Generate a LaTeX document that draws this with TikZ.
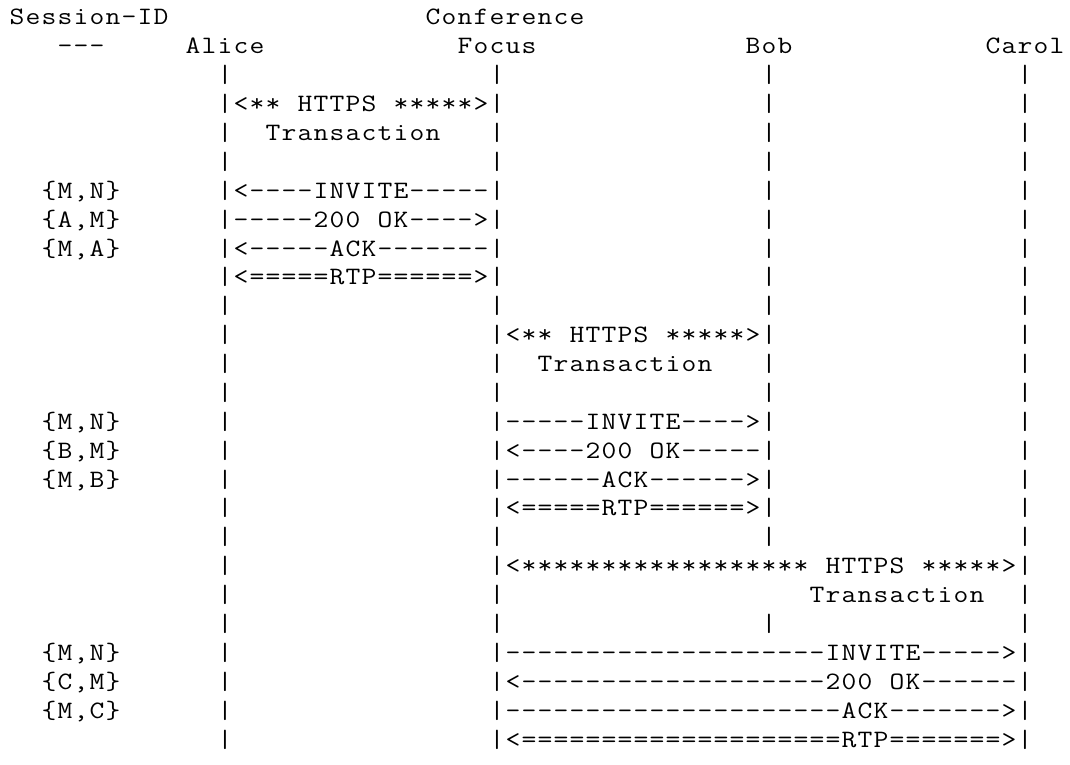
\documentclass[tikz,border=0pt]{standalone}
\usepackage{graphicx}
\ExplSyntaxOn
\cs_new:Npn \Rep #1#2 { \prg_replicate:nn {#1} {#2} }
\str_new:N \l_ascline_str
\NewDocumentCommand \asc { m }
  {
    \str_set:Nx \l_ascline_str {#1}
    \str_map_inline:Nn \l_ascline_str
      {
        \str_if_eq:nnTF {##1} {.}
          { \hbox_to_wd:nn {16pt} {} }
          { \hbox_to_wd:nn {16pt} { \hss \scalebox{1.15}[1]{##1} \hss } }
      }
  }
\ExplSyntaxOff
\newcommand\Bars{\Rep{13}{.}|\Rep{16}{.}|\Rep{16}{.}|\Rep{15}{.}|}
\tikzset{
  asc/.style={anchor=base west, inner sep=0pt, outer sep=0pt,
    font=\fontsize{25}{30}\selectfont\ttfamily, text=black}
}
\newcommand\Ln[2]{\node[asc] (l#1) at (9pt,{-25pt-28.88pt*(#1-1)}) {\asc{#2}};}
\begin{document}
\begin{tikzpicture}
\fill[white] (0,0) rectangle (1070pt,-765pt);
\useasboundingbox (0,0) rectangle (1070pt,-765pt);
\Ln{1}{Session-ID\Rep{16}{.}Conference}
\Ln{2}{\Rep{3}{.}---\Rep{5}{.}Alice\Rep{12}{.}Focus\Rep{13}{.}Bob\Rep{12}{.}Carol}
\Ln{3}{\Bars}
\Ln{4}{\Rep{13}{.}|<**.HTTPS.*****>|\Rep{16}{.}|\Rep{15}{.}|}
\Ln{5}{\Rep{13}{.}|..Transaction...|\Rep{16}{.}|\Rep{15}{.}|}
\Ln{6}{\Bars}
\Ln{7}{\Rep{2}{.}{M,N}\Rep{6}{.}|<\Rep{4}{-}INVITE\Rep{5}{-}|\Rep{16}{.}|\Rep{15}{.}|}
\Ln{8}{\Rep{2}{.}{A,M}\Rep{6}{.}|\Rep{5}{-}200.OK\Rep{4}{-}>|\Rep{16}{.}|\Rep{15}{.}|}
\Ln{9}{\Rep{2}{.}{M,A}\Rep{6}{.}|<\Rep{5}{-}ACK\Rep{7}{-}|\Rep{16}{.}|\Rep{15}{.}|}
\Ln{10}{\Rep{13}{.}|<\Rep{5}{=}RTP\Rep{6}{=}>|\Rep{16}{.}|\Rep{15}{.}|}
\Ln{11}{\Bars}
\Ln{12}{\Rep{13}{.}|\Rep{16}{.}|<**.HTTPS.*****>|\Rep{15}{.}|}
\Ln{13}{\Rep{13}{.}|\Rep{16}{.}|..Transaction...|\Rep{15}{.}|}
\Ln{14}{\Bars}
\Ln{15}{\Rep{2}{.}{M,N}\Rep{6}{.}|\Rep{16}{.}|\Rep{5}{-}INVITE\Rep{4}{-}>|\Rep{15}{.}|}
\Ln{16}{\Rep{2}{.}{B,M}\Rep{6}{.}|\Rep{16}{.}|<\Rep{4}{-}200.OK\Rep{5}{-}|\Rep{15}{.}|}
\Ln{17}{\Rep{2}{.}{M,B}\Rep{6}{.}|\Rep{16}{.}|\Rep{6}{-}ACK\Rep{6}{-}>|\Rep{15}{.}|}
\Ln{18}{\Rep{13}{.}|\Rep{16}{.}|<\Rep{5}{=}RTP\Rep{6}{=}>|\Rep{15}{.}|}
\Ln{19}{\Bars}
\Ln{20}{\Rep{13}{.}|\Rep{16}{.}|<\Rep{18}{*}.HTTPS.*****>|}
\Ln{21}{\Rep{13}{.}|\Rep{16}{.}|\Rep{19}{.}Transaction..|}
\Ln{22}{\Bars}
\Ln{23}{\Rep{2}{.}{M,N}\Rep{6}{.}|\Rep{16}{.}|\Rep{20}{-}INVITE\Rep{5}{-}>|}
\Ln{24}{\Rep{2}{.}{C,M}\Rep{6}{.}|\Rep{16}{.}|<\Rep{19}{-}200.OK\Rep{6}{-}|}
\Ln{25}{\Rep{2}{.}{M,C}\Rep{6}{.}|\Rep{16}{.}|\Rep{21}{-}ACK\Rep{7}{-}>|}
\Ln{26}{\Rep{13}{.}|\Rep{16}{.}|<\Rep{20}{=}RTP\Rep{7}{=}>|}
\end{tikzpicture}
\end{document}
